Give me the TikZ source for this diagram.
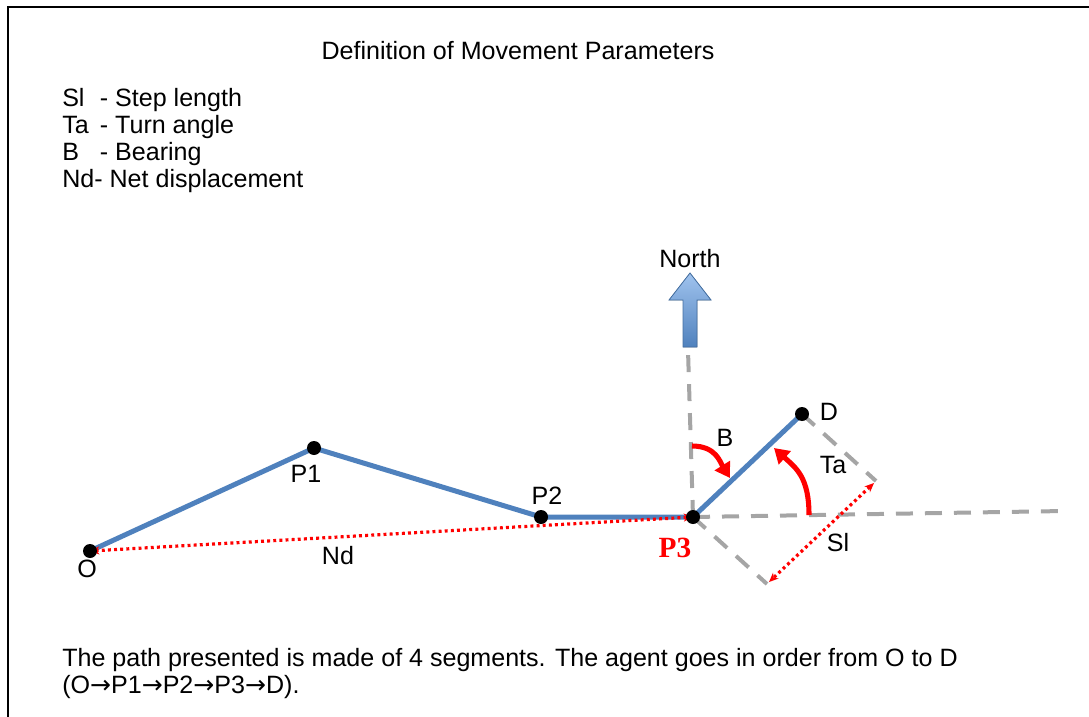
\documentclass[tikz,border=0pt]{standalone}
\usepackage{fontspec}
\setmainfont{Liberation Sans}
\newfontfamily\labelserif{Liberation Serif}
\newfontfamily\arrowfont{DejaVu Sans}
\usetikzlibrary{arrows.meta,positioning}
\definecolor{pathblue}{RGB}{79,129,189}
\definecolor{northtop}{RGB}{160,195,238}
\definecolor{guidegray}{RGB}{165,165,165}
\newcommand{\goesto}{{\arrowfont\char"2192}}

\begin{document}
\begin{tikzpicture}[
    x=0.75pt, y=-0.75pt,
    txt/.style={font=\fontsize{18.8}{20.25}\selectfont, inner sep=0pt},
    dot/.style={circle, fill=black, inner sep=0pt, minimum size=10.5pt},
    route/.style={draw=pathblue, line width=3.75pt, line join=round},
    guide/.style={draw=guidegray, line width=3pt, dash pattern=on 12.75pt off 9pt},
    meas/.style={draw=red, line width=2.4pt, dash pattern=on 2.2pt off 2.4pt,
      {Stealth[length=7pt,width=6pt]}-{Stealth[length=7pt,width=6pt]}},
    turn/.style={draw=red, line width=3.8pt, -{Triangle[length=11pt,width=13pt]}}
  ]
  \useasboundingbox (0,0) rectangle (1089,717);
  \draw[line width=2.2pt] (8,717) -- (8,7) -- (1089,7);

  % points of the walk
  \coordinate (o) at (90,551);
  \coordinate (p1) at (314,448);
  \coordinate (p2) at (541,517);
  \coordinate (p3) at (693,517);
  \coordinate (d) at (802,414);
  \coordinate (northbase) at (688,350);
  \coordinate (east) at (1065,511);
  \coordinate (slstart) at (767,584);
  \coordinate (slend) at (876,481);
  \coordinate (bearingstart) at (692,446);
  \coordinate (bearingend) at (730,478);
  \coordinate (turnstart) at (809,515);
  \coordinate (turnend) at (774,448);

  % dashed guides
  \draw[guide] (p3) -- (northbase);
  \draw[guide] (p3) -- (east);
  \draw[guide] (p3) -- (slstart);
  \draw[guide] (d) -- (slend);

  % north arrow
  \fill[top color=northtop, bottom color=pathblue, draw=pathblue!85!black, line width=0.6pt]
    (683,347) -- (683,300) -- (669,300) -- (690,273) -- (711,300) -- (697,300) -- (697,347) -- cycle;
  \node[txt] (northlbl) at (690,259) {North};

  % path segments
  \draw[route] (o) -- (p1) -- (p2) -- (p3) -- (d);
  \draw[meas] (o) -- (p3);
  \draw[meas] ([shift={(-2,2)}]slend) -- ([shift={(2,-2)}]slstart);

  % angles
  \draw[turn] (bearingstart) .. controls +(24,0) and +(-10,-16) .. (bearingend);
  \draw[turn] (turnstart) .. controls +(0,-38) and +(22,20) .. (turnend);

  \node[dot] at (o) {};
  \node[dot] at (p1) {};
  \node[dot] at (p2) {};
  \node[dot] at (p3) {};
  \node[dot] at (d) {};

  % labels
  \node[txt] (lo) at (87,569) {O};
  \node[txt] (lp1) at (306,474) {P1};
  \node[txt] (lp2) at (547,496) {P2};
  \node[inner sep=0pt, text=red, font=\labelserif\bfseries\fontsize{22}{24}\selectfont] (lp3) at (675,548) {P3};
  \node[txt] (ld) at (829,412) {D};
  \node[txt] (lb) at (725,438) {B};
  \node[txt] (lta) at (833,465) {Ta};
  \node[txt] (lsl) at (838,543) {Sl};
  \node[txt] (lnd) at (338,556) {Nd};

  % texts
  \node[txt] (title) at (518,51) {Definition of Movement Parameters};
  \node[txt, anchor=north west, align=left] (legend) at (62,88)
    {\makebox[1.5em][l]{Sl}- Step length\\
     \makebox[1.5em][l]{Ta}- Turn angle\\
     \makebox[1.5em][l]{B}- Bearing\\
     Nd- Net displacement};
  \node[txt, anchor=north west, align=left] (note) at (62,648)
    {The path presented is made of 4 segments. The agent goes in order from O to D\\
     (O\goesto P1\goesto P2\goesto P3\goesto D).};
\end{tikzpicture}
\end{document}
